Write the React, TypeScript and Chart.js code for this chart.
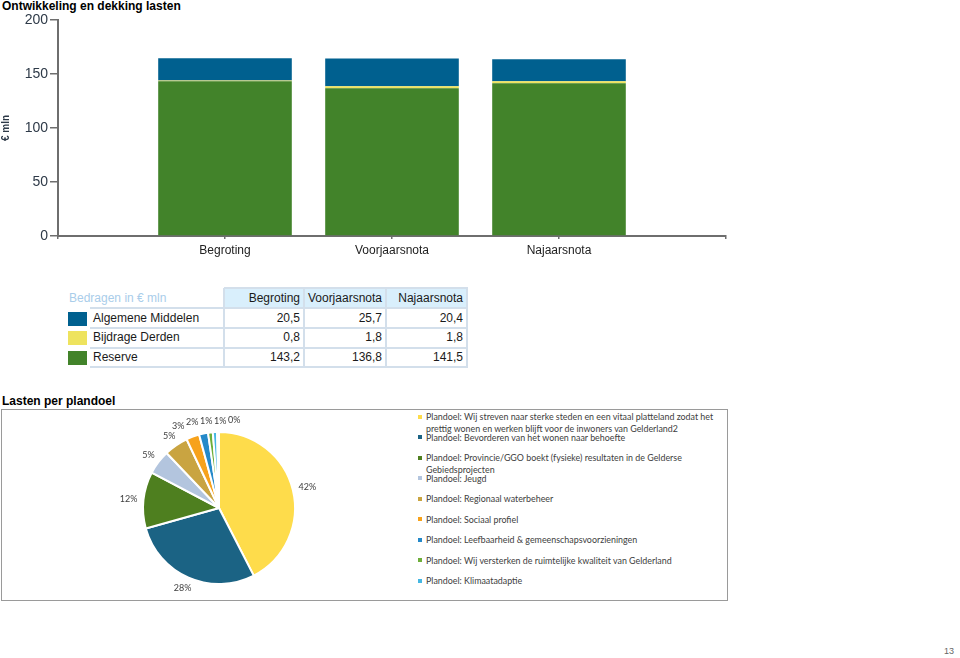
import React, { useEffect, useRef } from "react";
import { Chart, registerables } from "chart.js";

Chart.register(...registerables);

// ---------- Data: bar chart ----------
const barCategories = ["Begroting", "Voorjaarsnota", "Najaarsnota"];
const algemeneMiddelen = [20.5, 25.7, 20.4];
const bijdrageDerden = [0.8, 1.8, 1.8];
const reserve = [143.2, 136.8, 141.5];
const yTickValues = [0, 50, 100, 150, 200];
const seriesNames = ["Algemene Middelen", "Bijdrage Derden", "Reserve"];

// ---------- Data: pie chart ----------
const plandoelLabels = [
  "Plandoel: Wij streven naar sterke steden en een vitaal platteland zodat het\nprettig wonen en werken blijft voor de inwoners van Gelderland2",
  "Plandoel: Bevorderen van het wonen naar behoefte",
  "Plandoel: Provincie/GGO boekt (fysieke) resultaten in de Gelderse\nGebiedsprojecten",
  "Plandoel: Jeugd",
  "Plandoel: Regionaal waterbeheer",
  "Plandoel: Sociaal profiel",
  "Plandoel: Leefbaarheid & gemeenschapsvoorzieningen",
  "Plandoel: Wij versterken de ruimtelijke kwaliteit van Gelderland",
  "Plandoel: Klimaatadaptie",
  "Plandoel: Overig",
];
const plandoelValues = [42.4, 28.2, 12.0, 5.2, 5.1, 2.8, 1.9, 1.0, 0.9, 0.4];
const legendItemCount = 9; // the legend box shows the first nine items

// ---------- Styles ----------
const BLUE = "#00608f";
const YELLOW = "#eee35e";
const GREEN = "#42832a";
const seriesColors = [BLUE, YELLOW, GREEN];
const pieColors = [
  "#fedc4b",
  "#1b6384",
  "#4e7f1f",
  "#b3c5de",
  "#c9a441",
  "#f7a21b",
  "#2589c9",
  "#6eae3a",
  "#45b7e2",
  "#9dc3e6",
];
const SANS = "'Liberation Sans', Arial, sans-serif";
const SMALL = "Lato, 'Open Sans', sans-serif";

const pieLabelPlugin = {
  id: "pieLabels",
  afterDatasetsDraw(chart: any) {
    const ctx = chart.ctx;
    const meta = chart.getDatasetMeta(0);
    const data = chart.data.datasets[0].data as number[];
    const total = data.reduce((a, b) => a + b, 0);
    ctx.save();
    ctx.font = "9px " + SMALL;
    ctx.fillStyle = "#404040";
    ctx.textAlign = "center";
    ctx.textBaseline = "middle";
    let cy = 0,
      r = 0;
    const items = meta.data.map((arc: any, i: number) => {
      const mid = (arc.startAngle + arc.endAngle) / 2;
      cy = arc.y;
      r = arc.outerRadius;
      const c = Math.cos(mid),
        s = Math.sin(mid);
      const text = Math.round((data[i] / total) * 100) + "%";
      const w = ctx.measureText(text).width;
      return {
        text,
        x: arc.x + c * (arc.outerRadius + 6) + (c * w) / 2,
        y: arc.y + s * (arc.outerRadius + 6) + s * 5.5,
      };
    });
    // spread crowded labels near the top of the pie
    const top = items.filter((it: any) => it.y < cy - r - 2);
    const gap = 14;
    for (let k = 0; k < 60; k++) {
      for (let j = 1; j < top.length; j++) {
        const d = top[j].x - top[j - 1].x;
        if (d < gap) {
          const push = (gap - d) / 2;
          top[j].x += push;
          top[j - 1].x -= push;
        }
      }
    }
    items.forEach((it: any) => ctx.fillText(it.text, it.x, it.y));
    ctx.restore();
  },
};

function BarChart() {
  const ref = useRef<HTMLCanvasElement>(null);
  useEffect(() => {
    if (!ref.current) return;
    const pad = (arr: number[]) => [null, ...arr, null];
    const axisColor = "#6e6e6e";
    const chart = new Chart(ref.current, {
      type: "bar",
      data: {
        labels: ["", ...barCategories, ""],
        datasets: [
          { label: seriesNames[2], data: pad(reserve) as any, backgroundColor: GREEN },
          { label: seriesNames[1], data: pad(bijdrageDerden) as any, backgroundColor: YELLOW },
          { label: seriesNames[0], data: pad(algemeneMiddelen) as any, backgroundColor: BLUE },
        ],
      },
      options: {
        animation: false,
        responsive: false,
        devicePixelRatio: 1,
        layout: { padding: { left: 0, top: 20, right: 14, bottom: 0 } },
        plugins: { legend: { display: false }, tooltip: { enabled: false } },
        datasets: { bar: { categoryPercentage: 1, barPercentage: 0.8 } },
        scales: {
          x: {
            stacked: true,
            offset: false,
            grid: {
              display: true,
              offset: false,
              drawOnChartArea: false,
              drawTicks: true,
              tickLength: 3,
              color: axisColor,
              lineWidth: 1.5,
            },
            border: { display: true, color: axisColor, width: 2 },
            ticks: {
              color: "#222",
              font: { family: SANS, size: 12 },
              padding: 4,
              maxRotation: 0,
              autoSkip: false,
            },
            afterFit: (s: any) => {
              s.height = 34;
            },
          },
          y: {
            stacked: true,
            min: 0,
            max: 200,
            afterBuildTicks: (s: any) => {
              s.ticks = yTickValues.map((v) => ({ value: v }));
            },
            grid: {
              display: true,
              drawOnChartArea: false,
              drawTicks: true,
              tickLength: 8,
              color: axisColor,
              lineWidth: 1.5,
            },
            border: { display: true, color: axisColor, width: 2 },
            ticks: {
              color: "#2e3a48",
              font: { family: SANS, size: 14 },
              padding: 2,
            },
            title: {
              display: true,
              text: "€ mln",
              color: "#2e3a48",
              font: { family: SANS, size: 10, weight: "bold" },
              padding: 0,
            },
            afterFit: (s: any) => {
              s.width = 58;
            },
          },
        },
      } as any,
    });
    return () => chart.destroy();
  }, []);
  return (
    <canvas
      ref={ref}
      width={740}
      height={270}
      style={{ position: "absolute", left: 0, top: 0, width: 740, height: 270 }}
    />
  );
}

function PieChart() {
  const ref = useRef<HTMLCanvasElement>(null);
  useEffect(() => {
    if (!ref.current) return;
    const chart = new Chart(ref.current, {
      type: "pie",
      data: {
        labels: plandoelLabels,
        datasets: [
          {
            data: plandoelValues,
            backgroundColor: pieColors,
            borderColor: "#ffffff",
            borderWidth: 2,
          },
        ],
      },
      options: {
        animation: false,
        responsive: false,
        devicePixelRatio: 1,
        layout: { padding: 23 },
        plugins: { legend: { display: false }, tooltip: { enabled: false } },
      } as any,
      plugins: [pieLabelPlugin],
    });
    return () => chart.destroy();
  }, []);
  return (
    <canvas
      ref={ref}
      width={260}
      height={200}
      style={{ position: "absolute", left: 89, top: 408, width: 260, height: 200 }}
    />
  );
}

function DataTable() {
  const colX = [90, 224, 304, 386, 467];
  const rowY = [288, 308, 328, 347.5, 367];
  const lineColor = "#d3dfeb";
  const values = [algemeneMiddelen, bijdrageDerden, reserve];
  const els: any[] = [];
  els.push(
    <div
      key="hbg"
      style={{
        position: "absolute",
        left: colX[1],
        top: rowY[0],
        width: colX[4] - colX[1],
        height: rowY[1] - rowY[0],
        background: "#d9effc",
      }}
    />
  );
  rowY.forEach((y, i) => {
    const x0 = i === 0 ? colX[1] : colX[0];
    els.push(
      <div
        key={"h" + i}
        style={{
          position: "absolute",
          left: x0,
          top: y - 1,
          width: colX[4] - x0 + 1,
          height: 2,
          background: lineColor,
        }}
      />
    );
  });
  colX.slice(1).forEach((x, i) => {
    els.push(
      <div
        key={"v" + i}
        style={{
          position: "absolute",
          left: x - 1,
          top: rowY[0],
          width: 2,
          height: rowY[4] - rowY[0],
          background: lineColor,
        }}
      />
    );
  });
  const textStyle = (extra: any) => ({
    position: "absolute" as const,
    font: "12px " + SANS,
    color: "#1a1a1a",
    lineHeight: "20px",
    whiteSpace: "nowrap" as const,
    ...extra,
  });
  els.push(
    <div key="cap" style={textStyle({ left: 69, top: rowY[0], height: 20, color: "#a9cdea" })}>
      Bedragen in € mln
    </div>
  );
  barCategories.forEach((c, j) => {
    els.push(
      <div
        key={"hc" + j}
        style={textStyle({
          left: colX[j + 1],
          width: colX[j + 2] - colX[j + 1] - 4,
          top: rowY[0],
          textAlign: "right",
        })}
      >
        {c}
      </div>
    );
  });
  seriesNames.forEach((name, i) => {
    const top = rowY[i + 1];
    const h = rowY[i + 2] - rowY[i + 1];
    els.push(
      <div
        key={"sw" + i}
        style={{
          position: "absolute",
          left: 68,
          top: top + (h - 14) / 2 + 0.5,
          width: 19,
          height: 14,
          background: seriesColors[i],
        }}
      />
    );
    els.push(
      <div key={"n" + i} style={textStyle({ left: 93, top, lineHeight: h + "px" })}>
        {name}
      </div>
    );
    values[i].forEach((v, j) => {
      els.push(
        <div
          key={"c" + i + "_" + j}
          style={textStyle({
            left: colX[j + 1],
            width: colX[j + 2] - colX[j + 1] - 4,
            top,
            lineHeight: h + "px",
            textAlign: "right",
          })}
        >
          {v.toFixed(1).replace(".", ",")}
        </div>
      );
    });
  });
  return <>{els}</>;
}

function PieLegend() {
  const firstLine = 417;
  const step = 20.45;
  const lh = 11.3;
  return (
    <>
      {plandoelLabels.slice(0, legendItemCount).map((label, i) => (
        <React.Fragment key={i}>
          <div
            style={{
              position: "absolute",
              left: 418,
              top: firstLine + i * step - 2,
              width: 4,
              height: 4,
              background: pieColors[i],
            }}
          />
          <div
            style={{
              position: "absolute",
              left: 426,
              top: firstLine + i * step - lh / 2,
              font: "8.9px " + SMALL,
              lineHeight: lh + "px",
              color: "#404040",
              whiteSpace: "pre",
            }}
          >
            {label}
          </div>
        </React.Fragment>
      ))}
    </>
  );
}

export default function App() {
  return (
    <div
      style={{
        position: "absolute",
        left: 0,
        top: 0,
        width: 960,
        height: 658,
        overflow: "hidden",
        background: "#fff",
        fontFamily: SANS,
      }}
    >
      <div
        style={{
          position: "absolute",
          left: 2,
          top: -1,
          font: "bold 12px " + SANS,
          color: "#000",
          lineHeight: "14px",
        }}
      >
        Ontwikkeling en dekking lasten
      </div>
      <BarChart />
      <DataTable />
      <div
        style={{
          position: "absolute",
          left: 2,
          top: 394,
          font: "bold 12px " + SANS,
          color: "#000",
          lineHeight: "14px",
        }}
      >
        Lasten per plandoel
      </div>
      <div
        style={{
          position: "absolute",
          left: 1,
          top: 409,
          width: 725,
          height: 190,
          border: "1px solid #9a9a9a",
        }}
      />
      <PieChart />
      <PieLegend />
      <div
        style={{
          position: "absolute",
          right: 6,
          top: 646,
          font: "9px " + SANS,
          color: "#666",
        }}
      >
        13
      </div>
    </div>
  );
}
